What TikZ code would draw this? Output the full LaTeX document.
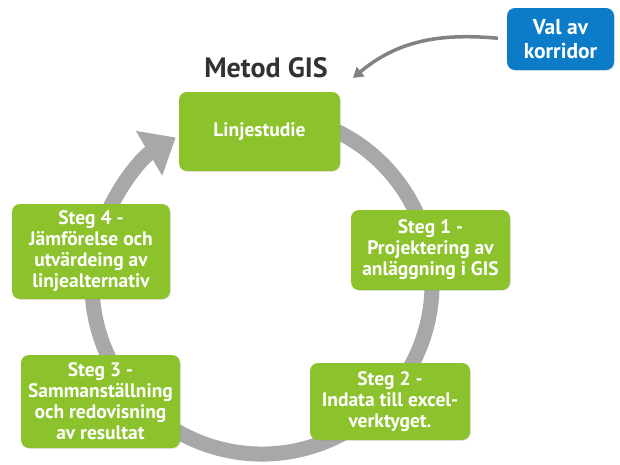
\documentclass[tikz,border=0pt]{standalone}
\usepackage{fontspec}
\setmainfont{PT Sans}
\usetikzlibrary{arrows.meta,shadows}
\definecolor{stepgreen}{RGB}{140,194,44}
\definecolor{valblue}{RGB}{12,124,200}
\definecolor{ringgray}{RGB}{168,168,168}
\definecolor{arrowgray}{RGB}{130,130,130}
\definecolor{titlegray}{RGB}{50,50,50}
\tikzset{
	stepbox/.style={fill=stepgreen, rounded corners=8pt, text=white, align=center, inner sep=0pt,
		font=\bfseries\fontsize{19.5}{21}\selectfont,
		drop shadow={shadow xshift=0.8pt, shadow yshift=-0.8pt, opacity=0.2}},
	valbox/.style={stepbox, fill=valblue, font=\bfseries\fontsize{21.5}{24}\selectfont},
	ringarrow/.style={ringgray, line width=15pt, -{Triangle[width=50pt,length=31pt]}},
	curvearrow/.style={arrowgray, line width=3.5pt, -{Triangle[width=12pt,length=10pt]}}
}
\begin{document}
\begin{tikzpicture}[x=1pt,y=1pt]
	\useasboundingbox (0,0) rectangle (620,-464);
	
	\coordinate (mid) at (262,-284);
	\def\r{170}
	\draw[ringarrow] (mid) ++(70:\r) arc[start angle=70, end angle=-239.5, radius=\r];
	
	\node[stepbox, minimum width=161pt, minimum height=79pt] (lin) at (259.5,-131.5) {Linjestudie};
	\node[stepbox, minimum width=159pt, minimum height=80pt] (s1) at (430.5,-250) {Steg 1 -\\Projektering av\\anläggning i GIS};
	\node[stepbox, minimum width=160pt, minimum height=77pt] (s2) at (390,-401.5) {Steg 2 -\\Indata till excel-\\verktyget.};
	\node[stepbox, minimum width=159pt, minimum height=93pt] (s3) at (100.5,-401.5) {Steg 3 -\\Sammanställning\\och redovisning\\av resultat};
	\node[stepbox, minimum width=158pt, minimum height=95pt] (s4) at (91,-251.5) {Steg 4 -\\Jämförelse och\\utvärdeing av\\linjealternativ};
	
	\node[valbox, minimum width=107pt, minimum height=62pt] (val) at (560.5,-39) {Val av\\korridor};
	\node[text=titlegray, font=\bfseries\fontsize{28}{32}\selectfont] (title) at (266,-68) {Metod GIS};
	
	\coordinate (gisend) at (353,-78);
	\draw[curvearrow, shorten <=9pt] (val.west) to[out=175, in=40] (gisend);
	
\end{tikzpicture}
\end{document}
